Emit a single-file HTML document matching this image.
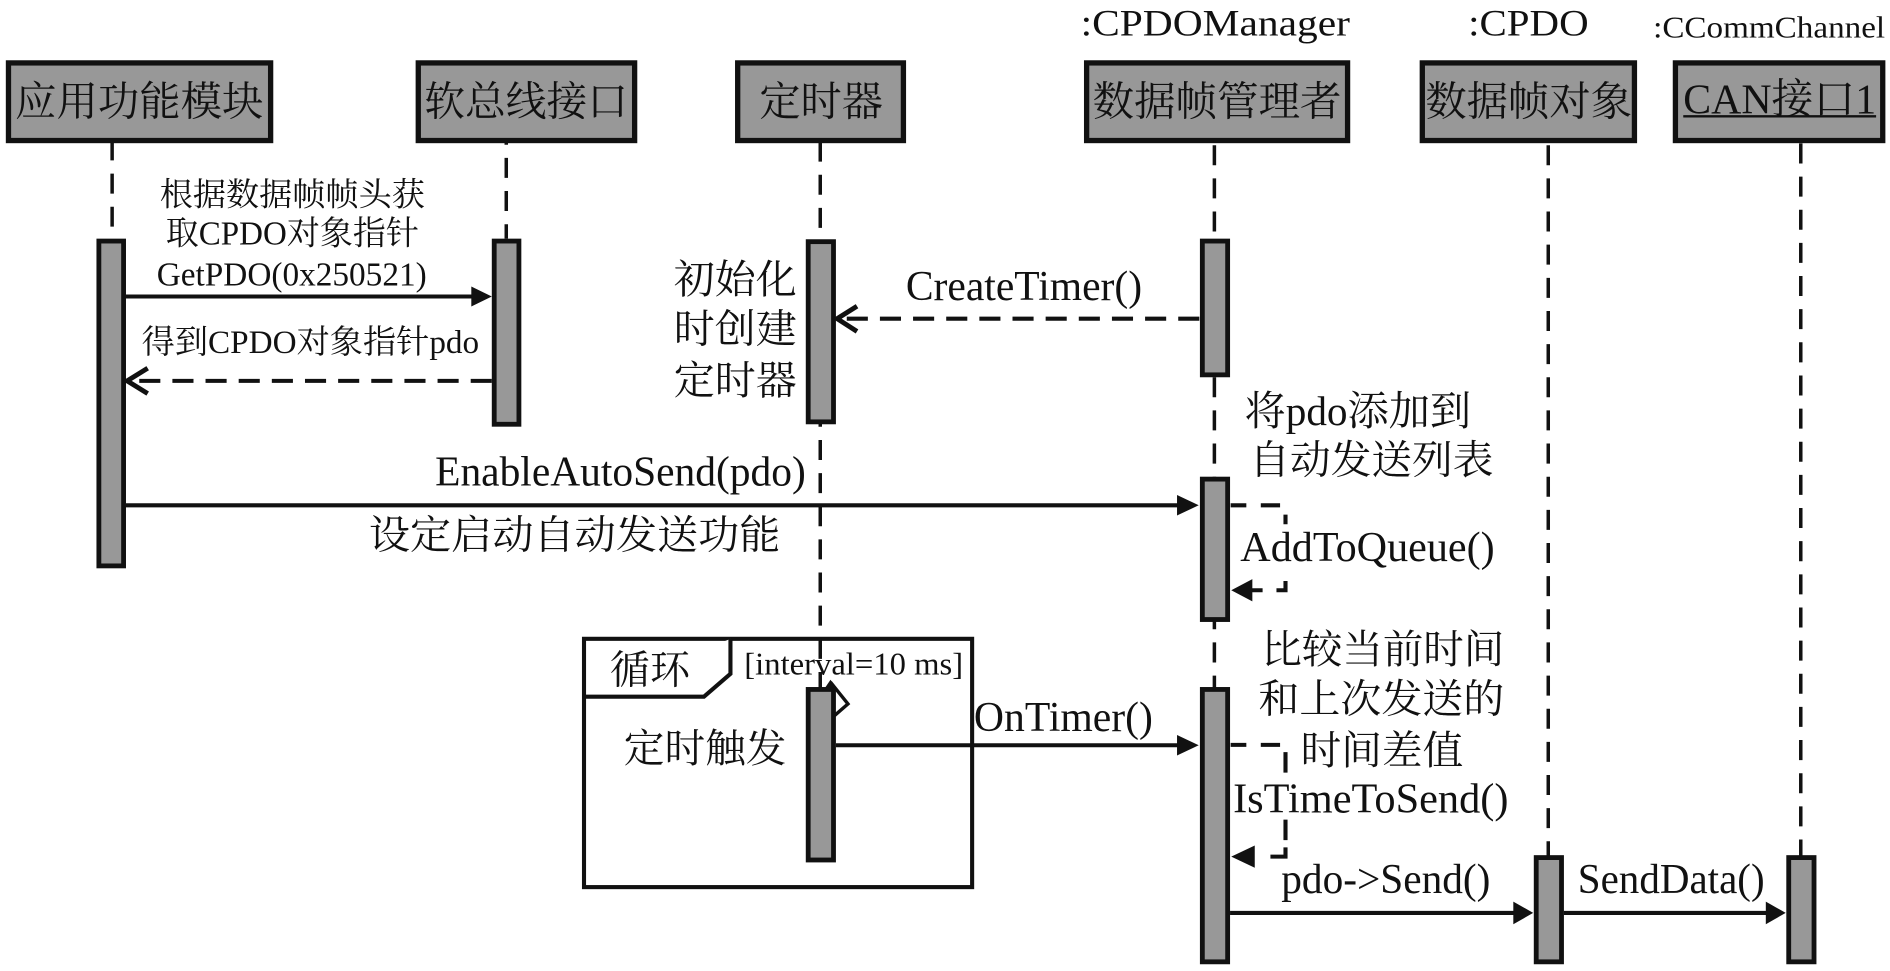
<!DOCTYPE html>
<html><head><meta charset="utf-8"><style>
html,body{margin:0;padding:0;background:#fff;width:1890px;height:971px;overflow:hidden}
svg{display:block}
text{font-family:"Liberation Serif","Noto Serif CJK SC",serif;fill:#111}
.b{fill:#989898;stroke:#111;stroke-width:4.4}
.a{fill:#989898;stroke:#111;stroke-width:4}
.w{stroke:#111;stroke-width:2.9;stroke-dasharray:16.6 10.9;fill:none}
.m{stroke:#111;stroke-width:3.4;fill:none}
.d{stroke:#111;stroke-width:3.4;stroke-dasharray:17.5 10;fill:none}
.o{stroke:#111;stroke-width:4;fill:none}
.h{fill:#111}
</style></head><body>
<svg width="1890" height="971" viewBox="0 0 1568 805.6" xmlns="http://www.w3.org/2000/svg">
<rect width="1568" height="806" fill="#fff"/>
<!-- loop frame -->
<rect x="484.5" y="530" width="322" height="206" fill="none" stroke="#111" stroke-width="3.4"/>
<path d="M484.5 578H584L606 559V530" fill="#fff" stroke="#111" stroke-width="3.4"/>
<!-- lifelines -->
<path class="w" d="M93 116.5V188"/>
<path class="w" d="M420 103.5V198"/>
<path class="w" d="M680.5 117.5V571"/>
<path class="w" d="M1007.5 120.5V571"/>
<path class="w" d="M1284.5 120.5V711"/>
<path class="w" d="M1494 119V711"/>
<!-- head boxes -->
<rect class="b" x="7" y="52.2" width="217.5" height="64.4"/>
<rect class="b" x="347" y="52.2" width="179.5" height="64.4"/>
<rect class="b" x="612" y="52.2" width="137.5" height="64.4"/>
<rect class="b" x="901.5" y="52.2" width="216.5" height="64.4"/>
<rect class="b" x="1180" y="52.2" width="176" height="64.4"/>
<rect class="b" x="1390" y="52.2" width="172" height="64.4"/>
<!-- activations -->
<rect class="a" x="82" y="200" width="20.5" height="269.5"/>
<rect class="a" x="410" y="200" width="20.5" height="152"/>
<rect class="a" x="670.5" y="200.5" width="21" height="149.5"/>
<rect class="a" x="997.5" y="200" width="21" height="111"/>
<rect class="a" x="997.5" y="397.5" width="21" height="116.5"/>
<path d="M689 566L703.5 584L692 594" fill="#fff" stroke="#111" stroke-width="2.8"/>
<path d="M689 564l-5.5 8h11z" fill="#111"/>
<rect class="a" x="670.5" y="572" width="21" height="141.5"/>
<rect class="a" x="997.5" y="572" width="21" height="226"/>
<rect class="a" x="1274.5" y="711.5" width="21" height="86.5"/>
<rect class="a" x="1484" y="711.5" width="21" height="86.5"/>
<!-- messages -->
<path class="m" d="M104.5 246H392"/><path class="h" d="M408 246L391 237.7V254.3Z"/>
<path class="d" d="M408 316H108"/><path class="o" d="M122.5 305.5L105.5 316L122.5 326.5"/>
<path class="d" d="M995 264.4H697"/><path class="o" d="M711 254L694.5 264.4L711 275"/>
<path class="m" d="M104.5 419.2H977"/><path class="h" d="M994.5 419.2L976.5 410.7V427.7Z"/>
<path class="m" d="M693.5 618.3H977"/><path class="h" d="M994.5 618.3L976.5 609.8V626.8Z"/>
<path class="m" d="M1020.5 757.4H1256"/><path class="h" d="M1272 757.4L1255.5 748V766.8Z"/>
<path class="m" d="M1297.5 757.4H1466"/><path class="h" d="M1481.5 757.4L1465 748V766.8Z"/>
<!-- self calls -->
<path class="m" d="M1021 419.2H1034M1046 419.2H1062M1066.5 427V435M1066.5 482V491.2M1068.2 489.7H1059M1047.5 489.7H1037"/>
<path class="h" d="M1021.5 489.7L1039 480.5V498.9Z"/>
<path class="m" d="M1021 618H1034M1046 618H1062M1066.5 624V641M1066.5 680V697M1066.5 703V712.4M1068.2 710.7H1054"/>
<path class="h" d="M1021.5 710.7L1041 701.5V719.9Z"/>
<!-- head labels -->
<text x="12.5" y="96" font-size="34" textLength="206" lengthAdjust="spacingAndGlyphs">应用功能模块</text>
<text x="352" y="96" font-size="34" textLength="169" lengthAdjust="spacingAndGlyphs">软总线接口</text>
<text x="630" y="96" font-size="34" textLength="102.5" lengthAdjust="spacingAndGlyphs">定时器</text>
<text x="906.5" y="96" font-size="34" textLength="206.5" lengthAdjust="spacingAndGlyphs">数据帧管理者</text>
<text x="1182.5" y="96" font-size="34" textLength="171.5" lengthAdjust="spacingAndGlyphs">数据帧对象</text>
<text x="1396.5" y="94" font-size="35" textLength="160" lengthAdjust="spacingAndGlyphs">CAN接口1</text>
<path d="M1396.5 96.5H1556.5" stroke="#111" stroke-width="2"/>
<text x="896.5" y="29.6" font-size="31" textLength="223.5" lengthAdjust="spacingAndGlyphs">:CPDOManager</text>
<text x="1218" y="29.6" font-size="31" textLength="100" lengthAdjust="spacingAndGlyphs">:CPDO</text>
<text x="1371.5" y="31" font-size="25" textLength="192.5" lengthAdjust="spacingAndGlyphs">:CCommChannel</text>
<!-- message labels -->
<text x="132.5" y="170.5" font-size="27" textLength="220" lengthAdjust="spacingAndGlyphs">根据数据帧帧头获</text>
<text x="137.5" y="203" font-size="28" textLength="210" lengthAdjust="spacingAndGlyphs">取CPDO对象指针</text>
<text x="130" y="237" font-size="28" textLength="224" lengthAdjust="spacingAndGlyphs">GetPDO(0x250521)</text>
<text x="117.5" y="293" font-size="27.5" textLength="280" lengthAdjust="spacingAndGlyphs">得到CPDO对象指针pdo</text>
<text x="559" y="243" font-size="33" textLength="102" lengthAdjust="spacingAndGlyphs">初始化</text>
<text x="559" y="284" font-size="33" textLength="102" lengthAdjust="spacingAndGlyphs">时创建</text>
<text x="559" y="327" font-size="33" textLength="102" lengthAdjust="spacingAndGlyphs">定时器</text>
<text x="751.5" y="249" font-size="35.5" textLength="196" lengthAdjust="spacingAndGlyphs">CreateTimer()</text>
<text x="361" y="403" font-size="35" textLength="307.5" lengthAdjust="spacingAndGlyphs">EnableAutoSend(pdo)</text>
<text x="306" y="455" font-size="33" textLength="341.5" lengthAdjust="spacingAndGlyphs">设定启动自动发送功能</text>
<text x="1032.5" y="352.5" font-size="34" textLength="188" lengthAdjust="spacingAndGlyphs">将pdo添加到</text>
<text x="1036.5" y="393" font-size="33" textLength="202.5" lengthAdjust="spacingAndGlyphs">自动发送列表</text>
<text x="1029" y="465.4" font-size="35.5" textLength="211" lengthAdjust="spacingAndGlyphs">AddToQueue()</text>
<text x="1046.5" y="550" font-size="33" textLength="201.5" lengthAdjust="spacingAndGlyphs">比较当前时间</text>
<text x="1044" y="591" font-size="33" textLength="204" lengthAdjust="spacingAndGlyphs">和上次发送的</text>
<text x="1079" y="634" font-size="33" textLength="135" lengthAdjust="spacingAndGlyphs">时间差值</text>
<text x="1023" y="674.2" font-size="35.5" textLength="228.5" lengthAdjust="spacingAndGlyphs">IsTimeToSend()</text>
<text x="1063" y="741" font-size="35" textLength="173.5" lengthAdjust="spacingAndGlyphs">pdo-&gt;Send()</text>
<text x="1309" y="741" font-size="35" textLength="155" lengthAdjust="spacingAndGlyphs">SendData()</text>
<text x="808" y="606.4" font-size="35" textLength="148.5" lengthAdjust="spacingAndGlyphs">OnTimer()</text>
<text x="506" y="567" font-size="33" textLength="66.5" lengthAdjust="spacingAndGlyphs">循环</text>
<text x="617.5" y="559.4" font-size="26" textLength="181.5" lengthAdjust="spacingAndGlyphs">[interval=10 ms]</text>
<text x="517.5" y="632" font-size="33" textLength="135" lengthAdjust="spacingAndGlyphs">定时触发</text>
</svg>
</body></html>
